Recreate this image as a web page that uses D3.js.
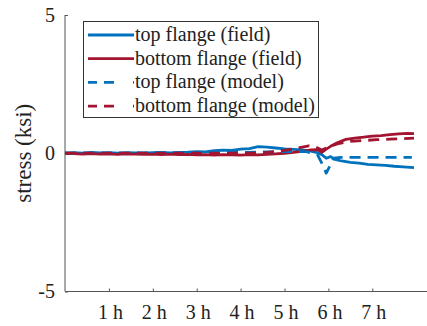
<!DOCTYPE html>
<html>
<head>
<meta charset="utf-8">
<script src="https://cdn.jsdelivr.net/npm/d3@7"></script>
<style>
  body { margin: 0; background: #fff; }
</style>
</head>
<body>
<div id="chart"></div>
<script>
// hours / stress (ksi)
var topFieldT = [0.0,0.2,0.4,0.6,0.8,1.0,1.2,1.4,1.6,1.8,2.0,2.2,2.4,2.6,2.8,3.0,3.2,3.4,3.6,3.8,4.0,4.2,4.4,4.6,4.8,5.0,5.2,5.4,5.6,5.75,5.85,5.95,6.05,6.15,6.3,6.5,6.7,6.9,7.1,7.3,7.5,7.7,7.95];
var topFieldV = [0.00,0.02,0.00,0.03,0.01,0.02,0.00,0.02,0.01,0.00,0.02,0.03,0.01,0.03,0.04,0.06,0.05,0.09,0.11,0.10,0.15,0.17,0.24,0.22,0.19,0.16,0.14,0.12,0.08,0.02,-0.05,-0.18,-0.12,-0.22,-0.28,-0.33,-0.36,-0.40,-0.42,-0.44,-0.47,-0.49,-0.52];

var botFieldT = [0.0,0.2,0.4,0.6,0.8,1.0,1.2,1.4,1.6,1.8,2.0,2.2,2.4,2.6,2.8,3.0,3.2,3.4,3.6,3.8,4.0,4.2,4.4,4.6,4.8,5.0,5.2,5.4,5.6,5.75,5.85,5.95,6.05,6.2,6.4,6.6,6.8,7.0,7.2,7.4,7.6,7.8,7.95];
var botFieldV = [0.00,-0.01,-0.03,-0.01,-0.03,-0.02,-0.04,-0.02,-0.03,-0.04,-0.03,-0.05,-0.03,-0.05,-0.04,-0.06,-0.05,-0.07,-0.05,-0.06,-0.07,-0.05,-0.06,-0.04,-0.02,0.00,0.03,0.07,0.12,0.13,0.03,0.15,0.25,0.38,0.50,0.55,0.58,0.62,0.64,0.67,0.70,0.72,0.71];

var topModelT = [0,2,4,5.0,5.5,5.75,5.88,5.95,6.02,6.12,6.3,7.9];
var topModelV = [0,0.01,0.03,0.06,0.06,-0.05,-0.45,-0.72,-0.5,-0.18,-0.15,-0.15];

var botModelT = [0,4.3,4.6,4.9,5.1,5.3,5.55,5.7,5.85,6.0,6.2,6.5,6.8,7.1,7.4,7.7,7.95];
var botModelV = [0,0.0,0.03,0.08,0.13,0.19,0.27,0.23,0.12,0.22,0.34,0.43,0.46,0.49,0.51,0.53,0.55];

var xTicks = [1,2,3,4,5,6,7];
var xTickLabels = ["1 h","2 h","3 h","4 h","5 h","6 h","7 h"];
var yTicks = [-5,0,5];
var seriesNames = ["top flange (field)","bottom flange (field)","top flange (model)","bottom flange (model)"];

var width = 427, height = 326;
var blue = "#0072BD", red = "#A2142F";
var serif = "'Liberation Serif', 'Times New Roman', serif";

var series = [
  {name: seriesNames[0], t: topFieldT, v: topFieldV, color: blue, dash: null},
  {name: seriesNames[1], t: botFieldT, v: botFieldV, color: red, dash: null},
  {name: seriesNames[2], t: topModelT, v: topModelV, color: blue, dash: "11,7"},
  {name: seriesNames[3], t: botModelT, v: botModelV, color: red, dash: "11,7"}
];

var x = d3.scaleLinear().domain([0, 8.4]).range([65, 65 + 8.4 * 43.9]);
var y = d3.scaleLinear().domain([-5, 5]).range([291.5, 15]);

var svg = d3.select("#chart").append("svg")
    .attr("width", width)
    .attr("height", height)
    .style("font-family", serif);

svg.append("rect").attr("width", width).attr("height", height).attr("fill", "#fff");

// axes
var xAxis = d3.axisBottom(x)
    .tickValues(xTicks)
    .tickFormat(function(d, i) { return xTickLabels[i]; })
    .tickSize(-3);

var gx = svg.append("g")
    .attr("transform", "translate(0," + y(-5) + ")")
    .call(xAxis)
    .attr("font-family", null).attr("font-size", null);
gx.select(".domain").attr("stroke", "#555").attr("d", "M" + x(0) + ",0H" + (width + 5));
gx.selectAll(".tick line").attr("stroke", "#555");
gx.selectAll(".tick text")
    .style("font-family", serif)
    .style("font-size", "20px")
    .attr("fill", "#222")
    .attr("dy", null)
    .attr("dx", 1)
    .attr("y", 27);

var yAxis = d3.axisLeft(y)
    .tickValues(yTicks)
    .tickFormat(function(d) { return d; })
    .tickSize(-3)
    .tickPadding(10);

var gy = svg.append("g")
    .attr("transform", "translate(" + x(0) + ",0)")
    .call(yAxis)
    .attr("font-family", null).attr("font-size", null);
gy.select(".domain").attr("stroke", "#555").attr("d", "M0," + y(5) + "V" + y(-5));
gy.selectAll(".tick line").attr("stroke", "#555");
gy.selectAll(".tick text")
    .style("font-family", serif)
    .style("font-size", "20px")
    .attr("fill", "#222");

svg.append("text")
    .attr("text-anchor", "middle")
    .attr("transform", "translate(31," + y(0) + ")rotate(-90)")
    .style("font-size", "23px")
    .attr("fill", "#222")
    .text("stress (ksi)");

// lines
var line = d3.line()
    .x(function(d) { return x(d[0]); })
    .y(function(d) { return y(d[1]); });

svg.selectAll(".serie")
    .data(series)
    .enter().append("path")
      .attr("class", "serie")
      .attr("fill", "none")
      .attr("stroke", function(d) { return d.color; })
      .attr("stroke-width", 2.8)
      .attr("stroke-linejoin", "round")
      .attr("stroke-dasharray", function(d) { return d.dash; })
      .attr("d", function(d) { return line(d.t.map(function(t, i) { return [t, d.v[i]]; })); });

// legend
var lg = svg.append("g");
lg.append("rect")
    .attr("x", 83.5).attr("y", 21.5)
    .attr("width", 235).attr("height", 96)
    .attr("fill", "#fff")
    .attr("stroke", "#333");

var legend = lg.selectAll(".legend")
    .data(series)
    .enter().append("g")
      .attr("class", "legend")
      .attr("transform", function(d, i) { return "translate(0," + (35 + i * 23.7) + ")"; });

legend.append("line")
    .attr("x1", 88).attr("x2", 134)
    .attr("stroke", function(d) { return d.color; })
    .attr("stroke-width", 2.8)
    .attr("stroke-dasharray", function(d) { return d.dash ? "9,7,10,19,1.5" : null; });

legend.append("text")
    .attr("x", 135)
    .attr("y", 6)
    .style("font-size", "20px")
    .attr("fill", "#222")
    .text(function(d) { return d.name; });
</script>
</body>
</html>
